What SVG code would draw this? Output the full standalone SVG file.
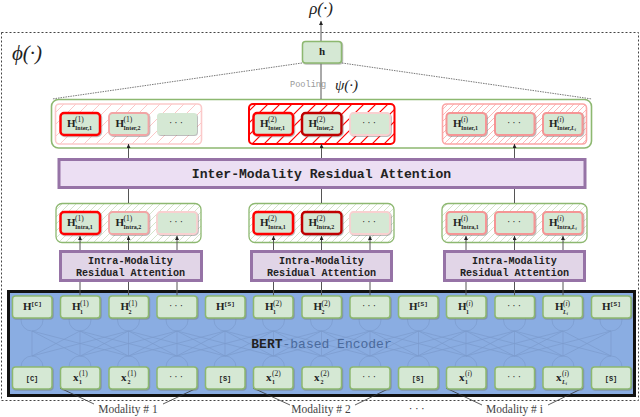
<svg xmlns="http://www.w3.org/2000/svg" xmlns:xlink="http://www.w3.org/1999/xlink" width="640" height="417" viewBox="0 0 640 417">
<style>
text{font-family:"Liberation Serif","DejaVu Serif",serif;fill:#222}
.n{fill:#d5e8d4;stroke:#8db870;stroke-width:1.5;filter:url(#sh)}
.pl{fill:#d5e8d4;stroke:none;filter:url(#sh)}
.r{fill:#d5e8d4;stroke:#f00;stroke-width:2.5;filter:url(#sh)}
.dr{fill:#d5e8d4;stroke:#c00000;stroke-width:2.5;filter:url(#sh)}
.p{fill:#d5e8d4;stroke:#f2a5a5;stroke-width:1.8;filter:url(#sh)}
.pp{fill:#d5e8d4;stroke:#f9d0d0;stroke-width:1.8;filter:url(#sh)}
.q{fill:#d5e8d4;stroke:#f59595;stroke-width:2;filter:url(#sh)}
.m{font-size:11px;font-weight:bold}
.s{font-size:7.500px;font-weight:normal}
.i{font-style:italic}
.u{font-size:6px;font-weight:bold}
.v{font-size:4px;font-style:italic}
.t{font-family:"Liberation Mono",monospace;font-weight:bold;fill:#222}
.d{font-size:10px;text-anchor:middle;letter-spacing:2px}
.b{font-family:"Liberation Mono",monospace;font-size:7px;font-weight:bold}
.bs{font-family:"Liberation Mono",monospace;font-size:6px;font-weight:bold}
.c{fill:none;stroke:#555;stroke-width:1}
.mod{font-size:11.500px;text-anchor:middle;fill:#444}
</style>
<defs>
<filter id="sh" x="-10%" y="-10%" width="125%" height="130%"><feDropShadow dx="0.8" dy="0.8" stdDeviation="0.5" flood-color="#777" flood-opacity="0.6"/></filter>
<pattern id="h1" patternUnits="userSpaceOnUse" width="12" height="12"><path d="M0 12L12 0M-3 3L3 -3M9 15L15 9" stroke="#fbc8c8" stroke-width="1"/></pattern>
<pattern id="h2" patternUnits="userSpaceOnUse" width="12" height="12"><path d="M0 12L12 0M-3 3L3 -3M9 15L15 9" stroke="#f00" stroke-width="1.2"/></pattern>
<pattern id="h3" patternUnits="userSpaceOnUse" width="6" height="6"><path d="M0 6L6 0M-2 2L2 -2M4 8L8 4" stroke="#fbb0b0" stroke-width="0.9"/></pattern>
<pattern id="h4" patternUnits="userSpaceOnUse" width="7" height="7"><path d="M0 7L7 0M-2 2L2 -2M5 9L9 5" stroke="#d5e4cc" stroke-width="1"/></pattern>
<marker id="a" markerWidth="5" markerHeight="5" refX="4" refY="2" orient="auto" markerUnits="userSpaceOnUse"><path d="M0 0L4 2L0 4Z" fill="#222"/></marker>
<g id="fan" fill="none"><path d="M0 0v25M0 0l48.250 25M0 0l-48.250 25M0 0l96.500 25M0 0l-96.500 25"/></g>
</defs>
<rect width="640" height="417" fill="#fff"/>
<rect x="1.500" y="32.500" width="637" height="368" fill="none" stroke="#444" stroke-dasharray="2 2"/>
<text x="12" y="60" font-size="21" font-style="italic">ϕ(·)</text>
<text x="321" y="14" font-size="17" font-style="italic" text-anchor="middle">ρ(·)</text>
<text x="335" y="90" font-size="15" font-style="italic">ψ(·)</text>
<text x="290" y="87" font-size="8.600" style="font-family:'Liberation Mono',monospace;fill:#999">Pooling</text>

<g id="encoder-bg">
<rect x="8.500" y="291.500" width="626" height="104" fill="#8aade2" stroke="#111" stroke-width="3"/>
<g fill="none" stroke="#7b9bcd" stroke-width="0.7">
<path d="M32 331v25M32 331l48 25M32 331l96.500 25M80 331v25M80 331l-48 25M80 331l48.500 25M80 331l97 25M563 331v25M563 331l-48.500 25M563 331l-97 25M563 331l48 25M611 331v25M611 331l-48 25M611 331l-96.500 25"/>
<use xlink:href="#fan" href="#fan" x="128.500" y="331"/>
<use xlink:href="#fan" href="#fan" x="177" y="331"/>
<use xlink:href="#fan" href="#fan" x="225" y="331"/>
<use xlink:href="#fan" href="#fan" x="273.500" y="331"/>
<use xlink:href="#fan" href="#fan" x="321.500" y="331"/>
<use xlink:href="#fan" href="#fan" x="370" y="331"/>
<use xlink:href="#fan" href="#fan" x="418.500" y="331"/>
<use xlink:href="#fan" href="#fan" x="466" y="331"/>
<use xlink:href="#fan" href="#fan" x="514.500" y="331"/>
<circle cx="32" cy="320" r="11"/><circle cx="80" cy="320" r="11"/><circle cx="128.500" cy="320" r="11"/><circle cx="177" cy="320" r="11"/><circle cx="225" cy="320" r="11"/><circle cx="273.500" cy="320" r="11"/><circle cx="321.500" cy="320" r="11"/><circle cx="370" cy="320" r="11"/><circle cx="418.500" cy="320" r="11"/><circle cx="466" cy="320" r="11"/><circle cx="514.500" cy="320" r="11"/><circle cx="563" cy="320" r="11"/><circle cx="611" cy="320" r="11"/>
<circle cx="32" cy="367" r="11"/><circle cx="80" cy="367" r="11"/><circle cx="128.500" cy="367" r="11"/><circle cx="177" cy="367" r="11"/><circle cx="225" cy="367" r="11"/><circle cx="273.500" cy="367" r="11"/><circle cx="321.500" cy="367" r="11"/><circle cx="370" cy="367" r="11"/><circle cx="418.500" cy="367" r="11"/><circle cx="466" cy="367" r="11"/><circle cx="514.500" cy="367" r="11"/><circle cx="563" cy="367" r="11"/><circle cx="611" cy="367" r="11"/>
</g>
<text class="t" x="321.500" y="348" font-size="13" text-anchor="middle">BERT<tspan style="fill:#4a6a9c;font-weight:normal">-based Encoder</tspan></text>
</g>

<g id="inter-container">
<rect x="51.500" y="99.500" width="540" height="48.500" rx="7" fill="#fff" stroke="#8db870" stroke-width="1.600"/>
<rect x="55.500" y="104" width="146" height="40" rx="4" fill="url(#h1)" stroke="#fbcaca" stroke-width="1.600"/>
<rect x="249" y="104" width="145.500" height="40" rx="4" fill="url(#h2)" stroke="#f00" stroke-width="2"/>
<rect x="442.500" y="104" width="144" height="40" rx="4" fill="url(#h3)" stroke="#fba5a5" stroke-width="1.600"/>
</g>
<g id="intra-container-1"><rect x="56" y="203.500" width="145" height="39" rx="6" fill="#fff"/><rect x="56" y="203.500" width="145" height="39" rx="6" fill="url(#h4)" stroke="#8db870" stroke-width="1.300"/></g>
<g id="intra-container-2"><rect x="249" y="203.500" width="145" height="39" rx="6" fill="#fff"/><rect x="249" y="203.500" width="145" height="39" rx="6" fill="url(#h4)" stroke="#8db870" stroke-width="1.300"/></g>
<g id="intra-container-3"><rect x="442" y="203.500" width="145" height="39" rx="6" fill="#fff"/><rect x="442" y="203.500" width="145" height="39" rx="6" fill="url(#h4)" stroke="#8db870" stroke-width="1.300"/></g>

<g id="connectors">
<path class="c" d="M321 99V21" marker-end="url(#a)"/>
<path d="M302 63L52 99M342 63L592 99" fill="none" stroke="#555" stroke-width="0.800" stroke-dasharray="1.500 1"/>
<path class="c" d="M128.500 159V144" marker-end="url(#a)"/><path class="c" d="M321.500 159V144" marker-end="url(#a)"/><path class="c" d="M514.500 159V144" marker-end="url(#a)"/>
<path class="c" d="M128.500 188V203M321.500 188V203M514.500 188V203"/>
<path class="c" d="M80 251V236" marker-end="url(#a)"/><path class="c" d="M128.500 251V236" marker-end="url(#a)"/><path class="c" d="M177 251V236" marker-end="url(#a)"/>
<path class="c" d="M273.500 251V236" marker-end="url(#a)"/><path class="c" d="M321.500 251V236" marker-end="url(#a)"/><path class="c" d="M370 251V236" marker-end="url(#a)"/>
<path class="c" d="M466 251V236" marker-end="url(#a)"/><path class="c" d="M514.500 251V236" marker-end="url(#a)"/><path class="c" d="M563 251V236" marker-end="url(#a)"/>
<path class="c" d="M80 281V296M128.500 281V296M177 281V296M273.500 281V296M321.500 281V296M370 281V296M466 281V296M514.500 281V296M563 281V296"/>
<path d="M60 388L94 404M197 388L163 404M253 388L290 405M390 388L355 405M446 388L482 405M583 388L548 405" fill="none" stroke="#333" stroke-width="0.800"/>
</g>

<g id="h-out"><rect class="n" x="302.500" y="41.500" width="39" height="21.500" rx="3"/><text class="m" x="322" y="55" text-anchor="middle">h</text></g>

<g id="inter-attn"><rect x="59" y="159.500" width="526" height="28" fill="#ecdff3" stroke="#9673a6" stroke-width="3"/><text class="t" x="321.500" y="178" font-size="13.100" text-anchor="middle">Inter-Modality Residual Attention</text></g>
<g id="intra-attn-1"><rect x="60.500" y="251.500" width="141" height="29" fill="#e1d5e7" stroke="#9673a6" stroke-width="3"/><text class="t" x="130.500" y="263.500" font-size="10.100" text-anchor="middle">Intra-Modality</text><text class="t" x="130.500" y="275.500" font-size="10.100" text-anchor="middle">Residual Attention</text></g>
<g id="intra-attn-2"><rect x="251.500" y="251.500" width="140" height="29" fill="#e1d5e7" stroke="#9673a6" stroke-width="3"/><text class="t" x="321.500" y="263.500" font-size="10.100" text-anchor="middle">Intra-Modality</text><text class="t" x="321.500" y="275.500" font-size="10.100" text-anchor="middle">Residual Attention</text></g>
<g id="intra-attn-3"><rect x="444.500" y="251.500" width="140" height="29" fill="#e1d5e7" stroke="#9673a6" stroke-width="3"/><text class="t" x="514.500" y="263.500" font-size="10.100" text-anchor="middle">Intra-Modality</text><text class="t" x="514.500" y="275.500" font-size="10.100" text-anchor="middle">Residual Attention</text></g>

<g id="inter-1-1"><rect class="r" x="60.500" y="113" width="39.500" height="22" rx="3.500"/><text class="m" x="67" y="127">H<tspan class="s" x="75" y="122">(1)</tspan><tspan class="u" x="75" y="130">Inter,1</tspan></text></g>
<g id="inter-1-2"><rect class="p" x="109" y="113" width="39.500" height="22" rx="3.500"/><text class="m" x="115.500" y="127">H<tspan class="s" x="123.500" y="122">(1)</tspan><tspan class="u" x="123.500" y="130">Inter,2</tspan></text></g>
<g id="inter-1-3"><rect class="pl" x="157" y="113" width="40" height="22" rx="3.500"/><text class="d" x="177" y="126">···</text></g>
<g id="inter-2-1"><rect class="r" x="253.500" y="113" width="39.500" height="22" rx="3.500"/><text class="m" x="260" y="127">H<tspan class="s" x="268" y="122">(2)</tspan><tspan class="u" x="268" y="130">Inter,1</tspan></text></g>
<g id="inter-2-2"><rect class="dr" x="302" y="113" width="39.500" height="22" rx="3.500"/><text class="m" x="308.500" y="127">H<tspan class="s" x="316.500" y="122">(2)</tspan><tspan class="u" x="316.500" y="130">Inter,2</tspan></text></g>
<g id="inter-2-3"><rect class="pp" x="350" y="113" width="40" height="22" rx="3.500"/><text class="d" x="370" y="126">···</text></g>
<g id="inter-3-1"><rect class="q" x="446.500" y="113" width="39.500" height="22" rx="3.500"/><text class="m" x="453" y="127">H<tspan class="s" x="461" y="122">(<tspan class="i">i</tspan>)</tspan><tspan class="u" x="461" y="130">Inter,1</tspan></text></g>
<g id="inter-3-2"><rect class="q" x="495" y="113" width="39.500" height="22" rx="3.500"/><text class="d" x="515" y="126">···</text></g>
<g id="inter-3-3"><rect class="q" x="543" y="113" width="39.500" height="22" rx="3.500"/><text class="m" x="549" y="127">H<tspan class="s" x="557" y="122">(<tspan class="i">i</tspan>)</tspan><tspan class="u" x="557" y="130">Inter,<tspan class="i">L</tspan><tspan class="v" dy="1">i</tspan></tspan></text></g>

<g id="intra-1-1"><rect class="r" x="60.500" y="212" width="39.500" height="22" rx="3.500"/><text class="m" x="67" y="226">H<tspan class="s" x="75" y="221">(1)</tspan><tspan class="u" x="75" y="229">Intra,1</tspan></text></g>
<g id="intra-1-2"><rect class="p" x="109" y="212" width="39.500" height="22" rx="3.500"/><text class="m" x="115.500" y="226">H<tspan class="s" x="123.500" y="221">(1)</tspan><tspan class="u" x="123.500" y="229">Intra,2</tspan></text></g>
<g id="intra-1-3"><rect class="pp" x="157" y="212" width="40" height="22" rx="3.500"/><text class="d" x="177" y="225">···</text></g>
<g id="intra-2-1"><rect class="r" x="253.500" y="212" width="39.500" height="22" rx="3.500"/><text class="m" x="260" y="226">H<tspan class="s" x="268" y="221">(2)</tspan><tspan class="u" x="268" y="229">Intra,1</tspan></text></g>
<g id="intra-2-2"><rect class="dr" x="302" y="212" width="39.500" height="22" rx="3.500"/><text class="m" x="308.500" y="226">H<tspan class="s" x="316.500" y="221">(2)</tspan><tspan class="u" x="316.500" y="229">Intra,2</tspan></text></g>
<g id="intra-2-3"><rect class="pp" x="350" y="212" width="40" height="22" rx="3.500"/><text class="d" x="370" y="225">···</text></g>
<g id="intra-3-1"><rect class="q" x="446.500" y="212" width="39.500" height="22" rx="3.500"/><text class="m" x="453" y="226">H<tspan class="s" x="461" y="221">(<tspan class="i">i</tspan>)</tspan><tspan class="u" x="461" y="229">Intra,1</tspan></text></g>
<g id="intra-3-2"><rect class="q" x="495" y="212" width="39.500" height="22" rx="3.500"/><text class="d" x="515" y="225">···</text></g>
<g id="intra-3-3"><rect class="q" x="543" y="212" width="39.500" height="22" rx="3.500"/><text class="m" x="549" y="226">H<tspan class="s" x="557" y="221">(<tspan class="i">i</tspan>)</tspan><tspan class="u" x="557" y="229">Intra,<tspan class="i">L</tspan><tspan class="v" dy="1">i</tspan></tspan></text></g>

<g id="enc-h-1"><rect class="n" x="12.500" y="296" width="39.500" height="22" rx="3"/><text class="m" x="23" y="310">H<tspan class="bs" x="31" y="306">[C]</tspan></text></g>
<g id="enc-h-2"><rect class="n" x="60.500" y="296" width="39.500" height="22" rx="3"/><text class="m" x="72" y="310">H<tspan class="s" x="80" y="306">(1)</tspan><tspan class="u" x="80" y="313.500">1</tspan></text></g>
<g id="enc-h-3"><rect class="n" x="109" y="296" width="39.500" height="22" rx="3"/><text class="m" x="120.500" y="310">H<tspan class="s" x="128.500" y="306">(1)</tspan><tspan class="u" x="128.500" y="313.500">2</tspan></text></g>
<g id="enc-h-4"><rect class="n" x="157" y="296" width="40" height="22" rx="3"/><text class="d" x="177" y="309">···</text></g>
<g id="enc-h-5"><rect class="n" x="205.500" y="296" width="39.500" height="22" rx="3"/><text class="m" x="216" y="310">H<tspan class="bs" x="224" y="306">[S]</tspan></text></g>
<g id="enc-h-6"><rect class="n" x="253.500" y="296" width="39.500" height="22" rx="3"/><text class="m" x="265" y="310">H<tspan class="s" x="273" y="306">(2)</tspan><tspan class="u" x="273" y="313.500">1</tspan></text></g>
<g id="enc-h-7"><rect class="n" x="302" y="296" width="39.500" height="22" rx="3"/><text class="m" x="313.500" y="310">H<tspan class="s" x="321.500" y="306">(2)</tspan><tspan class="u" x="321.500" y="313.500">2</tspan></text></g>
<g id="enc-h-8"><rect class="n" x="350" y="296" width="40" height="22" rx="3"/><text class="d" x="370" y="309">···</text></g>
<g id="enc-h-9"><rect class="n" x="398.500" y="296" width="39.500" height="22" rx="3"/><text class="m" x="409" y="310">H<tspan class="bs" x="417" y="306">[S]</tspan></text></g>
<g id="enc-h-10"><rect class="n" x="446.500" y="296" width="39.500" height="22" rx="3"/><text class="m" x="458" y="310">H<tspan class="s" x="466" y="306">(<tspan class="i">i</tspan>)</tspan><tspan class="u" x="466" y="313.500">1</tspan></text></g>
<g id="enc-h-11"><rect class="n" x="495" y="296" width="39.500" height="22" rx="3"/><text class="d" x="515" y="309">···</text></g>
<g id="enc-h-12"><rect class="n" x="543" y="296" width="39.500" height="22" rx="3"/><text class="m" x="555" y="310">H<tspan class="s" x="563" y="306">(<tspan class="i">i</tspan>)</tspan><tspan class="u i" x="563" y="313.500">L</tspan><tspan class="v" dy="1">i</tspan></text></g>
<g id="enc-h-13"><rect class="n" x="591.500" y="296" width="39.500" height="22" rx="3"/><text class="m" x="602" y="310">H<tspan class="bs" x="610" y="306">[S]</tspan></text></g>

<g id="enc-x-1"><rect class="n" x="12.500" y="367" width="39.500" height="22" rx="3"/><text class="b" x="32" y="380.500" text-anchor="middle">[C]</text></g>
<g id="enc-x-2"><rect class="n" x="60.500" y="367" width="39.500" height="22" rx="3"/><text class="m" x="73" y="381">x<tspan class="s" x="79" y="376">(1)</tspan><tspan class="u" x="79" y="384">1</tspan></text></g>
<g id="enc-x-3"><rect class="n" x="109" y="367" width="39.500" height="22" rx="3"/><text class="m" x="121" y="381">x<tspan class="s" x="127.500" y="376">(1)</tspan><tspan class="u" x="127.500" y="384">2</tspan></text></g>
<g id="enc-x-4"><rect class="n" x="157" y="367" width="40" height="22" rx="3"/><text class="d" x="177" y="380">···</text></g>
<g id="enc-x-5"><rect class="n" x="205.500" y="367" width="39.500" height="22" rx="3"/><text class="b" x="225" y="380.500" text-anchor="middle">[S]</text></g>
<g id="enc-x-6"><rect class="n" x="253.500" y="367" width="39.500" height="22" rx="3"/><text class="m" x="266" y="381">x<tspan class="s" x="272" y="376">(2)</tspan><tspan class="u" x="272" y="384">1</tspan></text></g>
<g id="enc-x-7"><rect class="n" x="302" y="367" width="39.500" height="22" rx="3"/><text class="m" x="314" y="381">x<tspan class="s" x="320.500" y="376">(2)</tspan><tspan class="u" x="320.500" y="384">2</tspan></text></g>
<g id="enc-x-8"><rect class="n" x="350" y="367" width="40" height="22" rx="3"/><text class="d" x="370" y="380">···</text></g>
<g id="enc-x-9"><rect class="n" x="398.500" y="367" width="39.500" height="22" rx="3"/><text class="b" x="418" y="380.500" text-anchor="middle">[S]</text></g>
<g id="enc-x-10"><rect class="n" x="446.500" y="367" width="39.500" height="22" rx="3"/><text class="m" x="459" y="381">x<tspan class="s" x="465" y="376">(<tspan class="i">i</tspan>)</tspan><tspan class="u" x="465" y="384">1</tspan></text></g>
<g id="enc-x-11"><rect class="n" x="495" y="367" width="39.500" height="22" rx="3"/><text class="d" x="515" y="380">···</text></g>
<g id="enc-x-12"><rect class="n" x="543" y="367" width="39.500" height="22" rx="3"/><text class="m" x="556" y="381">x<tspan class="s" x="562" y="376">(<tspan class="i">i</tspan>)</tspan><tspan class="u i" x="562" y="384">L</tspan><tspan class="v" dy="1">i</tspan></text></g>
<g id="enc-x-13"><rect class="n" x="591.500" y="367" width="39.500" height="22" rx="3"/><text class="b" x="611" y="380.500" text-anchor="middle">[S]</text></g>

<text class="mod" x="128" y="413">Modality # 1</text>
<text class="mod" x="321" y="413">Modality # 2</text>
<text class="mod" x="514.500" y="413">Modality # i</text>
<text class="d" x="418" y="412" style="font-size:11px;letter-spacing:2.500px">···</text>
</svg>
